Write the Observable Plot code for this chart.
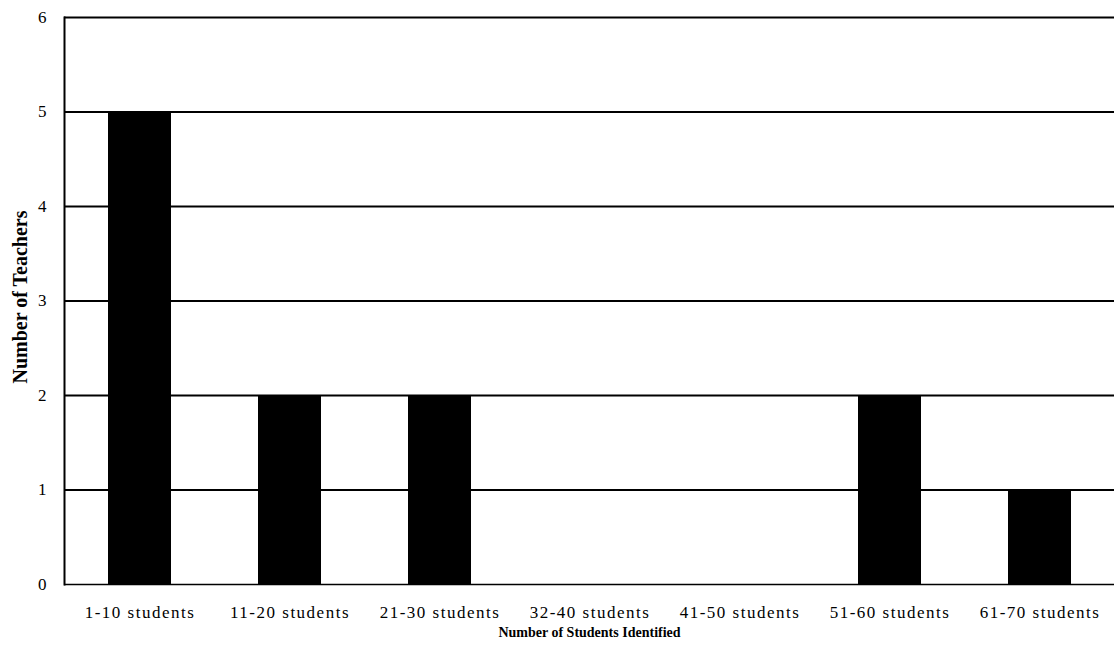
<!DOCTYPE html>
<html>
<head>
<meta charset="utf-8">
<script src="https://cdn.jsdelivr.net/npm/d3@7"></script>
<script src="https://cdn.jsdelivr.net/npm/@observablehq/plot@0.6"></script>
<style>
  html, body { margin: 0; padding: 0; background: #fff; }
  g[aria-label="x-axis tick label"] text { letter-spacing: 1.5px; }
</style>
</head>
<body>
<div id="chart"></div>
<script>
const categories = ["1-10 students", "11-20 students", "21-30 students", "32-40 students", "41-50 students", "51-60 students", "61-70 students"];
const teachers = [5, 2, 2, 0, 0, 2, 1];
const yTicks = [0, 1, 2, 3, 4, 5, 6];
const gridValues = [1, 2, 3, 4, 5, 6];
const xTitle = "Number of Students Identified";
const yTitle = "Number of Teachers";

const data = categories.map((c, i) => ({category: c, value: teachers[i]}));

const chart = Plot.plot({
  width: 1114,
  height: 660,
  marginLeft: 64,
  marginRight: 0,
  marginTop: 17,
  marginBottom: 76,
  style: {fontFamily: "Liberation Serif", fontSize: "17px", color: "#000", background: "#fff"},
  x: {domain: categories, paddingInner: 0.58, paddingOuter: 0.29, label: null},
  y: {domain: [0, 6], label: null},
  marks: [
    Plot.ruleY(gridValues, {stroke: "#000", strokeWidth: 2}),
    Plot.barY(data, {x: "category", y: "value", fill: "#000"}),
    Plot.ruleY([0], {stroke: "#000", strokeWidth: 1.5}),
    Plot.frame({anchor: "left", stroke: "#000", strokeWidth: 2}),
    Plot.axisY(yTicks, {tickSize: 0, tickPadding: 18, tickFormat: "d", label: null, fontSize: 17}),
    Plot.axisX({tickSize: 0, tickPadding: 21, label: null, fontSize: 17}),
    Plot.text([xTitle], {frameAnchor: "bottom", dy: 52, fontWeight: "bold", fontSize: 14}),
    Plot.text([yTitle], {frameAnchor: "left", dx: -44, dy: -4, rotate: -90, textAnchor: "middle", lineAnchor: "middle", fontWeight: "bold", fontSize: 20})
  ]
});
document.getElementById("chart").appendChild(chart);
</script>
</body>
</html>
